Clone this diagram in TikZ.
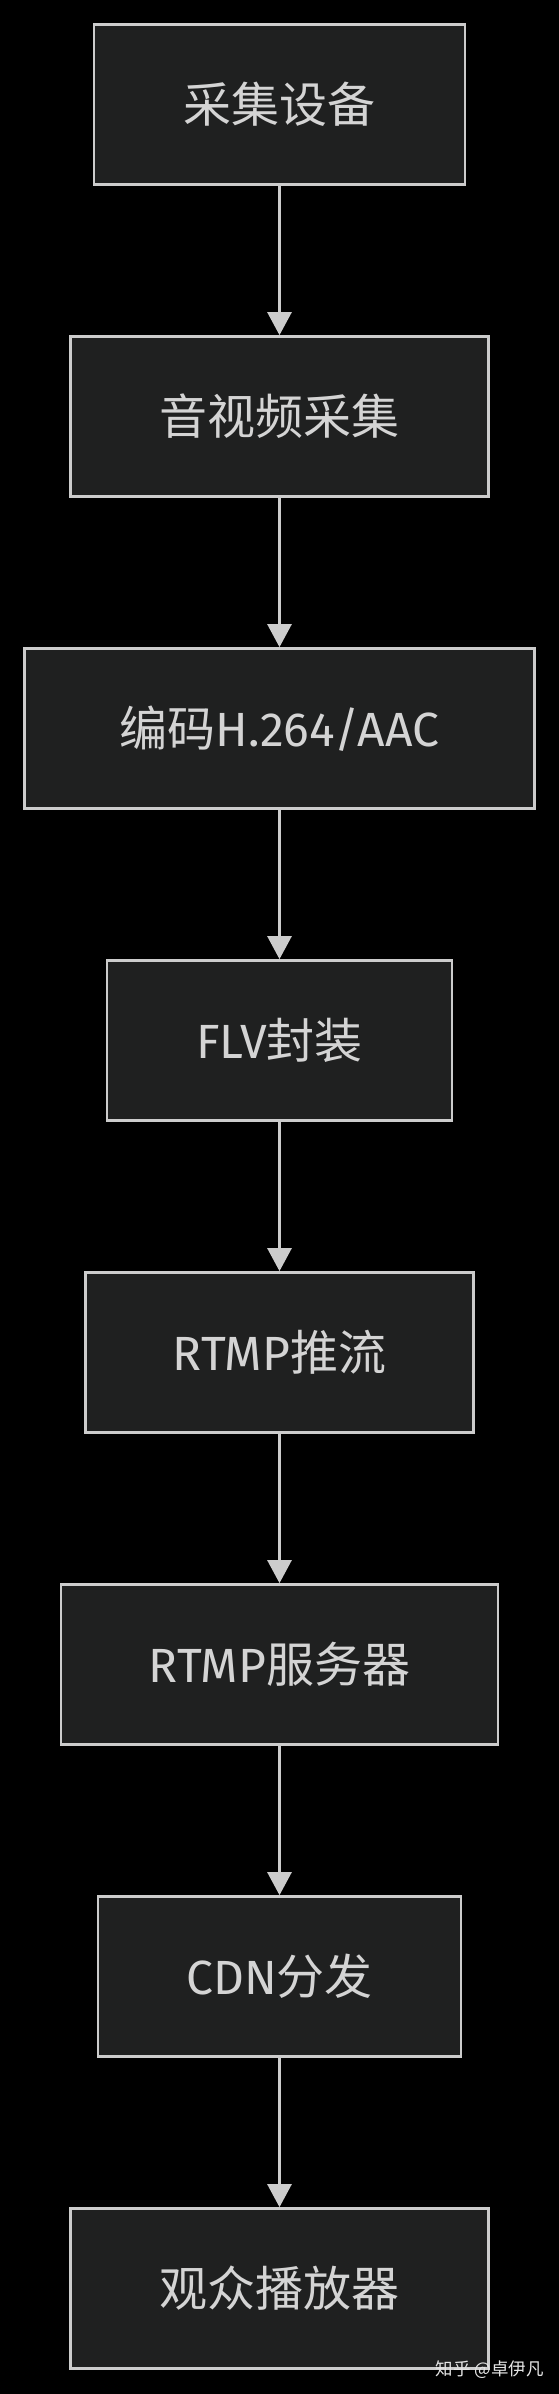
\documentclass[tikz,border=0pt]{standalone}
\usepackage{fontspec}
\setmainfont{Fira Sans}
\newfontfamily\cjk{Noto Sans CJK SC}
\usetikzlibrary{arrows.meta}
\definecolor{boxfill}{HTML}{1F2020}
\definecolor{boxline}{HTML}{CCCCCC}
\definecolor{txt}{HTML}{D4D4D4}
\begin{document}
\begin{tikzpicture}[x=1pt,y=-1pt,
  stepbox/.style={draw=boxline, fill=boxfill, line width=2.7pt, text=txt,
    minimum height=160pt, inner sep=0pt, font=\fontsize{48}{54}\selectfont},
  flow/.style={draw=boxline, line width=2.7pt,
    -{Triangle[width=24pt,length=23pt]}, color=boxline}]
\fill[black] (0,0) rectangle (559,2394);
\useasboundingbox (0,0) rectangle (559,2394);
\node[stepbox, minimum width=371pt] (n1) at (279.5,104.5) {\cjk 采集设备};
\node[stepbox, minimum width=418pt] (n2) at (279.5,416.5) {\cjk 音视频采集};
\node[stepbox, minimum width=510pt] (n3) at (279.5,728.5) {{\cjk 编码}H.264/AAC};
\node[stepbox, minimum width=345pt] (n4) at (279.5,1040.5) {FLV{\cjk 封装}};
\node[stepbox, minimum width=388pt] (n5) at (279.5,1352.5) {RTMP{\cjk 推流}};
\node[stepbox, minimum width=437pt] (n6) at (279.5,1664.5) {RTMP{\cjk 服务器}};
\node[stepbox, minimum width=363pt] (n7) at (279.5,1976.5) {CDN{\cjk 分发}};
\node[stepbox, minimum width=418pt] (n8) at (279.5,2288.5) {\cjk 观众播放器};
\foreach \a/\b in {n1/n2,n2/n3,n3/n4,n4/n5,n5/n6,n6/n7,n7/n8}
  \draw[flow] (\a.south) -- (\b.north);
\node[text=white!90!black, font=\cjk\fontsize{17.5}{20}\selectfont, anchor=east, inner sep=0pt] (wm) at (544,2370) {知乎 @卓伊凡};
\end{tikzpicture}
\end{document}
